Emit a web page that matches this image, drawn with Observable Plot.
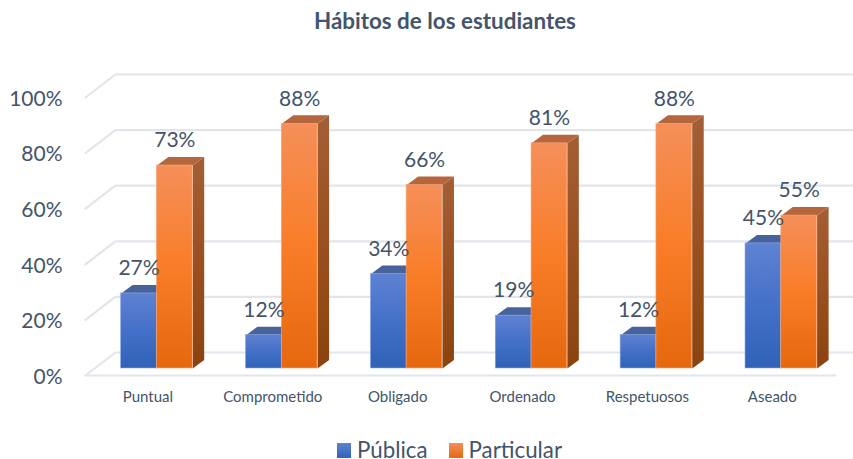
<!DOCTYPE html>
<html>
<head>
<meta charset="utf-8">
<script src="https://cdn.jsdelivr.net/npm/d3@7"></script>
<script src="https://cdn.jsdelivr.net/npm/@observablehq/plot@0.6"></script>
<style>
html,body{margin:0;padding:0;background:#fff;width:853px;height:459px;overflow:hidden;font-family:Lato,sans-serif;color:#44546a}
#title{height:40px;line-height:41px;text-align:center;font-weight:700;font-size:22.4px;padding-left:37px;box-sizing:border-box}
#chart svg{display:block;overflow:visible}
#chart{height:380px}
#legend{height:39px;display:flex;justify-content:flex-start;align-items:center;padding-left:337px;padding-top:21px;font-size:22.3px;line-height:18px;box-sizing:border-box}
#legend i{display:inline-block;width:14px;height:15px;margin-right:6px}
#legend span{display:inline-flex;align-items:center;margin-right:21px;height:18px}
</style>
</head>
<body>
<div id="title">Hábitos de los estudiantes</div>
<div id="chart"></div>
<div id="legend"></div>
<script>
const categories = ["Puntual","Comprometido","Obligado","Ordenado","Respetuosos","Aseado"];
const publica = [27,12,34,19,12,45];
const particular = [73,88,66,81,88,55];
const seriesNames = ["Pública","Particular"];
const yTicks = [0,20,40,60,80,100];

const ink = "#44546a";
const pxX = 1/124.88, pxY = 1/2.78;
const depthX = 11.5*pxX, depthY = 8.5*pxY;
const barW = 35.8*pxX;
const backY = 16*pxY, frontY = -7*pxY;
const leftFront = -71.5*pxX, leftBack = -41.5*pxX, rightBack = 696.5*pxX, rightFront = 678.5*pxX;

const rows = [];
categories.forEach((c,i)=>{
  rows.push({s:0,i,v:publica[i],x1:i-barW,x2:i});
  rows.push({s:1,i,v:particular[i],x1:i,x2:i+barW});
});
function poly(r,k,pts){return pts.map(p=>({key:`${r.s}-${r.i}-${k}`,x:p[0],y:p[1]}));}
const tops = s=>rows.filter(r=>r.s===s).flatMap(r=>poly(r,"t",[[r.x1,r.v],[r.x2,r.v],[r.x2+depthX,r.v+depthY],[r.x1+depthX,r.v+depthY],[r.x1,r.v]]));
const sides = s=>rows.filter(r=>r.s===s).flatMap(r=>poly(r,"s",[[r.x2,0],[r.x2,r.v],[r.x2+depthX,r.v+depthY],[r.x2+depthX,depthY],[r.x2,0]]));
const grid = yTicks.flatMap(t=>[
  {t,x:leftFront,y:t+frontY},
  {t,x:leftBack,y:t+backY},
  {t,x:rightBack,y:t+backY}
]);
const floorFront = [{x:leftFront,y:frontY},{x:rightFront,y:frontY}];

function defs(){
  const ns="http://www.w3.org/2000/svg";
  const d=document.createElementNS(ns,"defs");
  const grads={
    gb:["#5f82d2","#4470c8","#2f62b8"],
    go:["#f58f5a","#f97d28","#e5680f"],
    sb:["#3f5f9f","#34558f","#2a4a80"],
    so:["#a35f35","#9a5020","#8a430e"]
  };
  for(const id in grads){
    const g=document.createElementNS(ns,"linearGradient");
    g.setAttribute("id",id);g.setAttribute("x1","0");g.setAttribute("x2","0");g.setAttribute("y1","0");g.setAttribute("y2","1");
    grads[id].forEach((c,k)=>{const st=document.createElementNS(ns,"stop");st.setAttribute("offset",k/2);st.setAttribute("stop-color",c);g.appendChild(st);});
    d.appendChild(g);
  }
  return d;
}
const barMarks = s=>{
  const data=rows.filter(r=>r.s===s);
  const f=s?"url(#go)":"url(#gb)", side=s?"url(#so)":"url(#sb)", top=s?"#b5663d":"#48639c", edge=s?"#f8a878":"#8fabe6";
  return [
    Plot.line(sides(s),{x:"x",y:"y",z:"key",fill:side,stroke:"none",curve:"linear"}),
    Plot.line(tops(s),{x:"x",y:"y",z:"key",fill:top,stroke:"none",curve:"linear"}),
    Plot.rect(data,{x1:"x1",x2:"x2",y1:0,y2:"v",fill:f,stroke:edge,strokeWidth:0.6})
  ];
};
const chart = Plot.plot({
  width:853,height:380,
  marginLeft:0,marginRight:0,marginTop:0,marginBottom:0,
  style:{background:"transparent",overflow:"visible"},
  x:{type:"linear",domain:[0,5],range:[156.4,780.8]},
  y:{type:"linear",domain:[0,100],range:[328,50]},
  marks:[
    defs,
    Plot.line(grid,{x:"x",y:"y",z:"t",stroke:"#e2e5ec",strokeWidth:2.2,curve:"linear"}),
    Plot.line(floorFront,{x:"x",y:"y",stroke:"#e2e5ec",strokeWidth:2.2}),
    Plot.axisY({ticks:yTicks,tickSize:0,tickPadding:0,dx:62,dy:8.5,anchor:"left",label:null,fontSize:21,fill:ink,tickFormat:d=>d+"%",fontFamily:"Lato"}),
    Plot.axisX({ticks:d3.range(categories.length),tickSize:0,tickPadding:0,anchor:"bottom",label:null,fontSize:15,fill:ink,dx:-9,dy:-29,tickFormat:i=>categories[i],fontFamily:"Lato"}),
    ...barMarks(0),
    ...barMarks(1),
    Plot.text(rows,{x:r=>(r.x1+r.x2)/2,y:"v",text:r=>r.v+"%",dy:-25,fontSize:21,fill:ink,fontFamily:"Lato"})
  ]
});
document.getElementById("chart").appendChild(chart);
const lg=document.getElementById("legend");
seriesNames.forEach((n,k)=>{
  const s=document.createElement("span");
  s.innerHTML=`<i style="background:linear-gradient(${k?"#f58f5a,#e5680f":"#5f82d2,#2f62b8"})"></i>${n}`;
  lg.appendChild(s);
});
</script>
</body>
</html>
